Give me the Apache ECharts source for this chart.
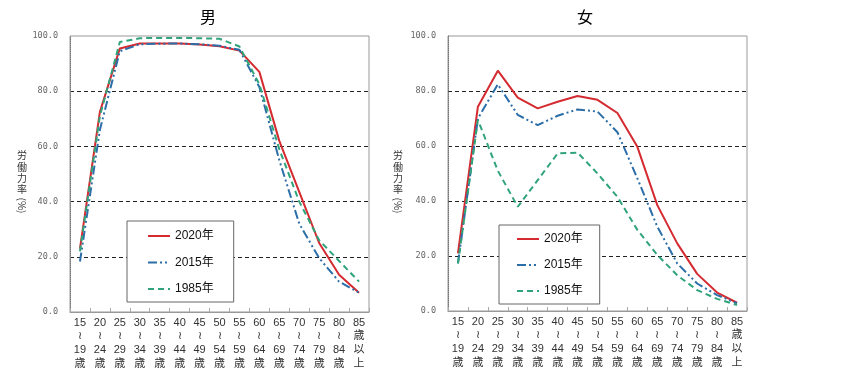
<!DOCTYPE html>
<html>
<head>
<meta charset="utf-8">
<script src="https://cdn.jsdelivr.net/npm/echarts@6/dist/echarts.min.js"></script>
<style>
html,body{margin:0;padding:0;background:#fff;}
#chart{width:858px;height:374px;}
</style>
</head>
<body>
<div id="chart"></div>
<script>
const categories = [
  '15\n≀\n19\n歳','20\n≀\n24\n歳','25\n≀\n29\n歳','30\n≀\n34\n歳','35\n≀\n39\n歳',
  '40\n≀\n44\n歳','45\n≀\n49\n歳','50\n≀\n54\n歳','55\n≀\n59\n歳','60\n≀\n64\n歳',
  '65\n≀\n69\n歳','70\n≀\n74\n歳','75\n≀\n79\n歳','80\n≀\n84\n歳','85\n歳\n以\n上'
];
const seriesNames = ['2020年','2015年','1985年'];
const yTicks = [0,20,40,60,80,100];

const male2020 = [23, 72.5, 95.5, 97.3, 97.3, 97.3, 96.9, 96.3, 94.7, 87, 62, 43.5, 25, 13.5, 7];
const male2015 = [18.3, 66, 94.5, 97, 97.2, 97.3, 97, 96.5, 95, 81.5, 55, 32, 19.5, 11, 7];
const male1985 = [22, 71, 97.8, 99.2, 99.3, 99.3, 99.2, 99.0, 96.2, 82.5, 59, 40, 26, 18.5, 11];

const female2020 = [21, 74.3, 87.4, 77.6, 73.7, 76.1, 78.2, 76.8, 72, 59.7, 38.5, 24.6, 13.5, 6.7, 3];
const female2015 = [17.3, 70, 82.4, 71.3, 67.6, 71, 73.3, 72.5, 65, 48.2, 30.7, 17.3, 10, 5.8, 2.8];
const female1985 = [17.3, 69.5, 51, 37.9, 47.6, 57.3, 57.6, 50, 41.5, 29.5, 20.4, 13, 7.6, 4.4, 2.2];

const colors = {'2020年':'#d42a30','2015年':'#2c6ea8','1985年':'#2fa37a'};
const dashes = {'2020年':'solid','2015年':[9,3,2,3,2,3],'1985年':[6,4]};

const chart = echarts.init(document.getElementById('chart'));
const cjk = "'Liberation Sans','Noto Sans CJK JP',sans-serif";

function xAxisCfg(gi){
  return {
    type:'category', gridIndex:gi, data:categories, boundaryGap:true,
    axisLine:{show:true, lineStyle:{color:'#999', width:1}},
    axisTick:{show:true, inside:true, length:4, lineStyle:{color:'#aaa'}},
    axisLabel:{interval:0, fontSize:11, lineHeight:13.6, color:'#333', margin:4, fontFamily:cjk},
    splitLine:{show:false}
  };
}
function yAxisCfg(gi){
  return {
    type:'value', gridIndex:gi, min:yTicks[0], max:yTicks[yTicks.length-1], interval:20,
    axisLine:{show:true, lineStyle:{color:'#777', type:'dotted', width:1}},
    axisTick:{show:false},
    axisLabel:{formatter:v=>v.toFixed(1), fontFamily:"'DejaVu Sans Mono',monospace", fontSize:8.5, color:'#666', margin:12},
    splitLine:{show:true, showMinLine:false, showMaxLine:false, lineStyle:{color:'#222', type:[4,3], width:1}}
  };
}
function mk(name, data, gi){
  return {
    name, type:'line', xAxisIndex:gi, yAxisIndex:gi, data, symbol:'none',
    lineStyle:{color:colors[name], width:2, type:dashes[name]},
    itemStyle:{color:colors[name]},
    emphasis:{disabled:true}, animation:false
  };
}
function legendCfg(left, top, pad, gap){
  return {
    orient:'vertical', left, top, data:seriesNames,
    backgroundColor:'#fff', borderColor:'#666', borderWidth:1, borderRadius:0,
    padding:pad, itemWidth:22, itemHeight:14, itemGap:gap,
    itemStyle:{color:'transparent', borderWidth:0, opacity:0},
    textStyle:{fontSize:12, color:'#111', fontFamily:cjk}
  };
}

const option = {
  animation:false,
  title:[
    {text:'男', left:200, top:9, padding:0, textStyle:{fontSize:16, fontWeight:'normal', color:'#000', fontFamily:"'Noto Sans CJK JP',sans-serif"}},
    {text:'女', left:577, top:9, padding:0, textStyle:{fontSize:16, fontWeight:'normal', color:'#000', fontFamily:"'Noto Sans CJK JP',sans-serif"}}
  ],
  grid:[
    {left:70, top:36, width:299, height:276, show:true, borderColor:'#999', borderWidth:1, backgroundColor:'transparent'},
    {left:448, top:36, width:299, height:275, show:true, borderColor:'#999', borderWidth:1, backgroundColor:'transparent'}
  ],
  xAxis:[xAxisCfg(0), xAxisCfg(1)],
  yAxis:[yAxisCfg(0), yAxisCfg(1)],
  legend:[legendCfg(127, 221, [9,20,7,20], 14.5), legendCfg(499, 225, [8,17,7,17], 14)],
  series:[
    mk('2020年', male2020, 0), mk('2015年', male2015, 0), mk('1985年', male1985, 0),
    mk('2020年', female2020, 1), mk('2015年', female2015, 1), mk('1985年', female1985, 1)
  ],
  graphic:[0,1].flatMap(i=>{
    const x = i===0 ? 22 : 398;
    const st = {fill:'#333', fontFamily:"'Noto Sans CJK JP',sans-serif", align:'center', verticalAlign:'middle'};
    return [
      {type:'text', style:Object.assign({x, y:172.5, text:'労\n働\n力\n率', fontSize:10, lineHeight:11.3}, st)},
      {type:'text', x, y:205.5, rotation:-Math.PI/2, style:Object.assign({x:0, y:0, text:'(%)', fontSize:10}, st)}
    ];
  })
};
chart.setOption(option);
</script>
</body>
</html>
